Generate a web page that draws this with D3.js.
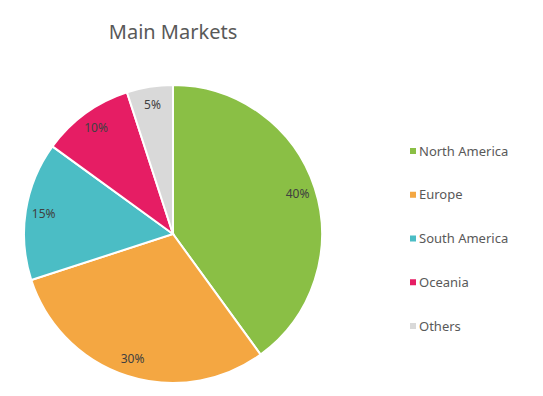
<html lang="en">
<head>
<meta charset="UTF-8">
<title>Main Markets</title>
<script src="https://d3js.org/d3.v7.min.js"></script>
<style>
  body { margin: 0; background: #fff; font-family: "Noto Sans", Arial, sans-serif; }
  .label { font-size: 12px; fill: #404040; }
  .legend text { font-size: 13px; fill: #595959; }
</style>
</head>
<body>
<div id="chart"></div>
<script>
// data
const markets = ["North America", "Europe", "South America", "Oceania", "Others"];
const shares = [40, 30, 15, 10, 5];
const colors = ["#8abf45", "#f4a742", "#4bbdc5", "#e61d64", "#d9d9d9"];

const W = 543, H = 396;
const cx = 173, cy = 234, radius = 149;

const svg = d3.select("#chart").append("svg")
  .attr("width", W)
  .attr("height", H);

svg.append("text")
  .attr("x", 173)
  .attr("y", 39)
  .attr("text-anchor", "middle")
  .style("font-size", "20px")
  .style("fill", "#595959")
  .text("Main Markets");

const data = markets.map((m, i) => ({ name: m, value: shares[i] }));

const pie = d3.pie().value(d => d.value).sort(null);
const arc = d3.arc().innerRadius(0).outerRadius(radius);
const labelArc = d3.arc().innerRadius(131).outerRadius(131);
const color = d3.scaleOrdinal().domain(markets).range(colors);

const g = svg.append("g").attr("transform", `translate(${cx},${cy})`);

const arcs = pie(data);

g.selectAll("path")
  .data(arcs)
  .enter().append("path")
  .attr("d", arc)
  .attr("fill", d => color(d.data.name))
  .attr("stroke", "#fff")
  .attr("stroke-width", 2);

g.selectAll(".label")
  .data(arcs)
  .enter().append("text")
  .attr("class", "label")
  .attr("transform", d => `translate(${labelArc.centroid(d)})`)
  .attr("text-anchor", "middle")
  .attr("dy", "0.35em")
  .text(d => d.data.value + "%");

// legend
const y = d3.scalePoint().domain(markets).range([151, 326]);

const legend = svg.append("g").attr("class", "legend");
const item = legend.selectAll("g")
  .data(markets)
  .enter().append("g")
  .attr("transform", d => `translate(410,${y(d)})`);

item.append("rect")
  .attr("x", 0)
  .attr("y", -3)
  .attr("width", 6)
  .attr("height", 6)
  .attr("fill", d => color(d));

item.append("text")
  .attr("x", 9)
  .attr("dy", "0.35em")
  .text(d => d);
</script>
</body>
</html>
